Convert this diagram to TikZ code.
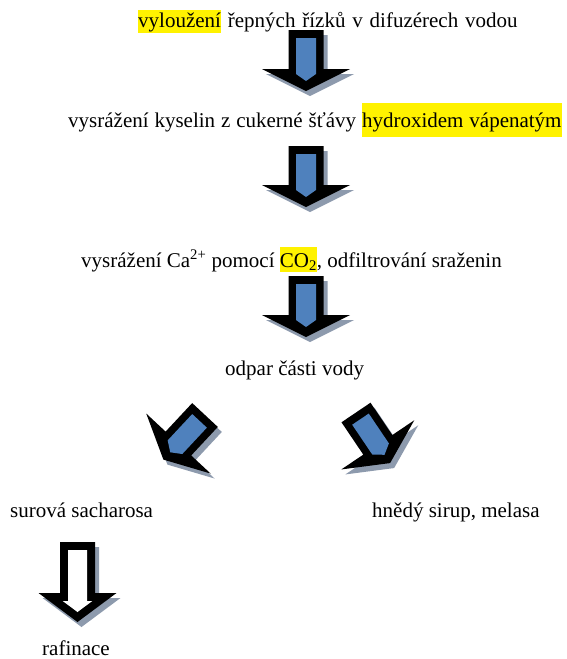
\documentclass[tikz,border=0pt]{standalone}
\usepackage{fontspec}
\setmainfont{Liberation Serif}
\definecolor{arrowblue}{HTML}{4F81BD}
\definecolor{shadowgray}{HTML}{8D9AAD}
\setlength{\fboxsep}{0pt}
\newcommand\hlbox[3]{\colorbox{yellow}{\rule[-#1]{0pt}{#2}#3}}
\tikzset{
  txt/.style={anchor=base west, inner sep=0pt, font=\fontsize{21}{24}\selectfont},
  arrowouter/.style={fill=black},
  arrowinner/.style={fill=arrowblue},
  arrowshadow/.style={fill=shadowgray},
  arrowhollow/.style={fill=white},
}
\newcommand\blockarrow[3]{%
  \begin{scope}[shift={(#1+4,#2+5)}, rotate=#3]
    \fill[arrowshadow] (-17.5,0) -- (17.5,0) -- (17.5,39) -- (44,39) -- (0,61) -- (-44,39) -- (-17.5,39) -- cycle;
  \end{scope}
  \begin{scope}[shift={(#1,#2)}, rotate=#3]
    \fill[arrowouter] (-17.5,0) -- (17.5,0) -- (17.5,39) -- (44,39) -- (0,61) -- (-44,39) -- (-17.5,39) -- cycle;
    \fill[arrowinner] (-10,8) -- (10,8) -- (10,44) -- (0,51) -- (-10,44) -- cycle;
  \end{scope}}
\begin{document}
\begin{tikzpicture}[x=1pt, y=-1pt]
\useasboundingbox (0,0) rectangle (567,659);

\node[txt] (t1) at (138,27) {\spaceskip=6.85pt\relax\hlbox{6pt}{23pt}{vyloužení} řepných řízků v difuzérech vodou};
\node[txt] (t2) at (68,127) {\spaceskip=5.9pt\relax vysrážení kyselin z cukerné šťávy \hlbox{10pt}{34pt}{hydroxidem vápenatým}};
\node[txt] (t3) at (81,267) {vysrážení Ca\textsuperscript{2+} pomocí \hlbox{5pt}{25pt}{CO\textsubscript{2}}, odfiltrování sraženin};
\node[txt] (t4) at (225,375) {odpar části vody};
\node[txt] (t5) at (10,517) {surová sacharosa};
\node[txt] (t6) at (372,517) {hnědý sirup, melasa};
\node[txt] (t7) at (42,655) {rafinace};

\blockarrow{306}{30}{0}
\blockarrow{306}{146}{0}
\blockarrow{306}{276}{0}
\blockarrow{205}{415}{-43}
\blockarrow{356}{412.5}{34}

% hollow arrow
\begin{scope}[shift={(77.5+4,542+5)}]
  \fill[arrowshadow] (-17.5,0) -- (17.5,0) -- (17.5,51) -- (39,51) -- (0,80) -- (-39,51) -- (-17.5,51) -- cycle;
\end{scope}
\begin{scope}[shift={(77.5,542)}]
  \fill[arrowouter] (-17.5,0) -- (17.5,0) -- (17.5,51) -- (39,51) -- (0,80) -- (-39,51) -- (-17.5,51) -- cycle;
  \fill[arrowhollow] (-9.5,8) -- (9.5,8) -- (9.5,59) -- (14.8,59) -- (0,70) -- (-14.8,59) -- (-9.5,59) -- cycle;
\end{scope}
\end{tikzpicture}
\end{document}
